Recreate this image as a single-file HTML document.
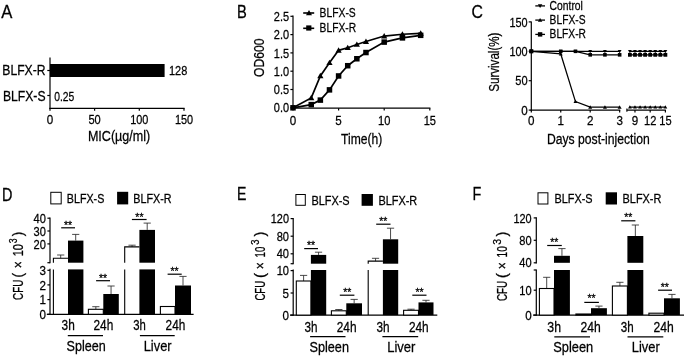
<!DOCTYPE html>
<html><head><meta charset="utf-8"><title>Figure</title>
<style>
html,body{margin:0;padding:0;background:#fff;}
svg{display:block;font-family:"Liberation Sans",sans-serif;}
svg text{fill:#000;stroke:#000;stroke-width:0.27px;}
svg line,svg polyline{stroke:#000;}
</style></head><body>
<svg width="685" height="358" viewBox="0 0 685 358" shape-rendering="geometricPrecision">
<rect x="0" y="0" width="685" height="358" fill="#ffffff" stroke="none"/>
<text transform="translate(1.20,18.10) scale(0.9094,1)" font-size="18.3">A</text>
<text transform="translate(236.90,17.70) scale(0.8029,1)" font-size="18.3">B</text>
<text transform="translate(471.50,18.30) scale(0.8628,1)" font-size="18.3">C</text>
<text transform="translate(1.90,200.50) scale(0.7871,1)" font-size="18.3">D</text>
<text transform="translate(236.90,200.30) scale(0.7701,1)" font-size="18.3">E</text>
<text transform="translate(472.50,200.40) scale(0.7870,1)" font-size="18.3">F</text>
<line x1="50.00" y1="57.50" x2="50.00" y2="108.90" stroke-width="1.2"/>
<line x1="47.30" y1="70.50" x2="50.00" y2="70.50" stroke-width="1.2"/>
<line x1="47.30" y1="95.50" x2="50.00" y2="95.50" stroke-width="1.2"/>
<rect x="50.00" y="64.00" width="114.60" height="13.00" fill="#000" stroke="none"/>
<line x1="49.40" y1="108.30" x2="184.60" y2="108.30" stroke-width="1.2"/>
<line x1="50.00" y1="108.30" x2="50.00" y2="110.80" stroke-width="1.2"/>
<line x1="94.60" y1="108.30" x2="94.60" y2="110.80" stroke-width="1.2"/>
<line x1="139.30" y1="108.30" x2="139.30" y2="110.80" stroke-width="1.2"/>
<line x1="184.00" y1="108.30" x2="184.00" y2="110.80" stroke-width="1.2"/>
<text transform="translate(2.30,75.40) scale(0.8227,1)" font-size="14.8">BLFX-R</text>
<text transform="translate(2.90,100.50) scale(0.8241,1)" font-size="14.8">BLFX-S</text>
<text transform="translate(169.00,75.20) scale(0.8008,1)" font-size="13.7">128</text>
<text transform="translate(54.20,100.60) scale(0.7539,1)" font-size="13.7">0.25</text>
<text transform="translate(46.77,124.00) scale(0.8488,1)" font-size="13.7">0</text>
<text transform="translate(88.43,124.00) scale(0.8094,1)" font-size="13.7">50</text>
<text transform="translate(130.20,124.00) scale(0.7963,1)" font-size="13.7">100</text>
<text transform="translate(174.90,124.00) scale(0.7963,1)" font-size="13.7">150</text>
<text transform="translate(87.90,141.30) scale(0.8270,1)" font-size="15.2">MIC(µg/ml)</text>
<line x1="293.00" y1="15.60" x2="293.00" y2="108.40" stroke-width="1.2"/>
<line x1="290.40" y1="107.80" x2="293.00" y2="107.80" stroke-width="1.2"/>
<text transform="translate(273.84,112.40) scale(0.8015,1)" font-size="13.7">0.0</text>
<line x1="290.40" y1="89.50" x2="293.00" y2="89.50" stroke-width="1.2"/>
<text transform="translate(273.84,94.10) scale(0.8015,1)" font-size="13.7">0.5</text>
<line x1="290.40" y1="71.20" x2="293.00" y2="71.20" stroke-width="1.2"/>
<text transform="translate(273.84,75.80) scale(0.8015,1)" font-size="13.7">1.0</text>
<line x1="290.40" y1="52.90" x2="293.00" y2="52.90" stroke-width="1.2"/>
<text transform="translate(273.84,57.50) scale(0.8015,1)" font-size="13.7">1.5</text>
<line x1="290.40" y1="34.60" x2="293.00" y2="34.60" stroke-width="1.2"/>
<text transform="translate(273.84,39.20) scale(0.8015,1)" font-size="13.7">2.0</text>
<line x1="290.40" y1="16.30" x2="293.00" y2="16.30" stroke-width="1.2"/>
<text transform="translate(273.84,20.90) scale(0.8015,1)" font-size="13.7">2.5</text>
<line x1="292.40" y1="108.20" x2="430.40" y2="108.20" stroke-width="1.2"/>
<line x1="293.00" y1="108.20" x2="293.00" y2="110.60" stroke-width="1.2"/>
<text transform="translate(289.77,124.50) scale(0.8488,1)" font-size="13.7">0</text>
<line x1="338.60" y1="108.20" x2="338.60" y2="110.60" stroke-width="1.2"/>
<text transform="translate(335.37,124.50) scale(0.8488,1)" font-size="13.7">5</text>
<line x1="384.20" y1="108.20" x2="384.20" y2="110.60" stroke-width="1.2"/>
<text transform="translate(378.03,124.50) scale(0.8094,1)" font-size="13.7">10</text>
<line x1="429.80" y1="108.20" x2="429.80" y2="110.60" stroke-width="1.2"/>
<text transform="translate(423.63,124.50) scale(0.8094,1)" font-size="13.7">15</text>
<text transform="translate(341.10,143.50) scale(0.7956,1)" font-size="15.2">Time(h)</text>
<text transform="translate(264.40,77.00) rotate(-90) scale(0.7974,1)" font-size="15.2">OD600</text>
<polyline points="293.00,107.80 311.24,97.92 320.36,75.96 329.48,62.78 338.60,50.34 347.72,47.78 356.84,44.48 365.96,41.55 384.20,36.06 402.44,34.23 420.68,33.32" fill="none" stroke-width="1.7"/>
<polyline points="293.00,107.80 311.24,104.62 320.36,100.11 329.48,89.87 338.60,75.96 347.72,65.71 356.84,58.76 365.96,52.53 384.20,42.10 402.44,37.89 420.68,35.33" fill="none" stroke-width="1.7"/>
<polygon points="311.24,94.82 308.14,100.24 314.34,100.24" fill="#000" stroke="none"/>
<polygon points="320.36,72.86 317.26,78.28 323.46,78.28" fill="#000" stroke="none"/>
<polygon points="329.48,59.68 326.38,65.11 332.58,65.11" fill="#000" stroke="none"/>
<polygon points="338.60,47.24 335.50,52.66 341.70,52.66" fill="#000" stroke="none"/>
<polygon points="347.72,44.68 344.62,50.10 350.82,50.10" fill="#000" stroke="none"/>
<polygon points="356.84,41.38 353.74,46.81 359.94,46.81" fill="#000" stroke="none"/>
<polygon points="365.96,38.45 362.86,43.88 369.06,43.88" fill="#000" stroke="none"/>
<polygon points="384.20,32.96 381.10,38.39 387.30,38.39" fill="#000" stroke="none"/>
<polygon points="402.44,31.13 399.34,36.56 405.54,36.56" fill="#000" stroke="none"/>
<polygon points="420.68,30.22 417.58,35.64 423.78,35.64" fill="#000" stroke="none"/>
<rect x="290.25" y="105.05" width="5.50" height="5.50" fill="#000" stroke="none"/>
<rect x="308.49" y="101.87" width="5.50" height="5.50" fill="#000" stroke="none"/>
<rect x="317.61" y="97.36" width="5.50" height="5.50" fill="#000" stroke="none"/>
<rect x="326.73" y="87.12" width="5.50" height="5.50" fill="#000" stroke="none"/>
<rect x="335.85" y="73.21" width="5.50" height="5.50" fill="#000" stroke="none"/>
<rect x="344.97" y="62.96" width="5.50" height="5.50" fill="#000" stroke="none"/>
<rect x="354.09" y="56.01" width="5.50" height="5.50" fill="#000" stroke="none"/>
<rect x="363.21" y="49.78" width="5.50" height="5.50" fill="#000" stroke="none"/>
<rect x="381.45" y="39.35" width="5.50" height="5.50" fill="#000" stroke="none"/>
<rect x="399.69" y="35.14" width="5.50" height="5.50" fill="#000" stroke="none"/>
<rect x="417.93" y="32.58" width="5.50" height="5.50" fill="#000" stroke="none"/>
<line x1="303.20" y1="13.00" x2="314.20" y2="13.00" stroke-width="1.6"/>
<polygon points="309.00,9.90 306.00,15.15 312.00,15.15" fill="#000" stroke="none"/>
<line x1="303.20" y1="28.30" x2="314.20" y2="28.30" stroke-width="1.6"/>
<rect x="306.20" y="25.40" width="5.20" height="5.20" fill="#000" stroke="none"/>
<text transform="translate(319.60,16.80) scale(0.7547,1)" font-size="13.7">BLFX-S</text>
<text transform="translate(319.60,32.30) scale(0.7492,1)" font-size="13.7">BLFX-R</text>
<line x1="531.30" y1="21.60" x2="531.30" y2="110.70" stroke-width="1.2"/>
<line x1="528.70" y1="110.10" x2="531.30" y2="110.10" stroke-width="1.2"/>
<text transform="translate(521.13,114.70) scale(0.8488,1)" font-size="13.7">0</text>
<line x1="528.70" y1="80.70" x2="531.30" y2="80.70" stroke-width="1.2"/>
<text transform="translate(515.27,85.30) scale(0.8094,1)" font-size="13.7">50</text>
<line x1="528.70" y1="51.30" x2="531.30" y2="51.30" stroke-width="1.2"/>
<text transform="translate(509.40,55.90) scale(0.7963,1)" font-size="13.7">100</text>
<line x1="528.70" y1="21.90" x2="531.30" y2="21.90" stroke-width="1.2"/>
<text transform="translate(509.40,26.50) scale(0.7963,1)" font-size="13.7">150</text>
<line x1="530.70" y1="110.10" x2="620.20" y2="110.10" stroke-width="1.2"/>
<line x1="531.30" y1="110.10" x2="531.30" y2="112.60" stroke-width="1.2"/>
<text transform="translate(528.07,125.40) scale(0.8488,1)" font-size="13.7">0</text>
<line x1="560.75" y1="110.10" x2="560.75" y2="112.60" stroke-width="1.2"/>
<text transform="translate(557.52,125.40) scale(0.8488,1)" font-size="13.7">1</text>
<line x1="590.20" y1="110.10" x2="590.20" y2="112.60" stroke-width="1.2"/>
<text transform="translate(586.97,125.40) scale(0.8488,1)" font-size="13.7">2</text>
<line x1="619.65" y1="110.10" x2="619.65" y2="112.60" stroke-width="1.2"/>
<text transform="translate(616.42,125.40) scale(0.8488,1)" font-size="13.7">3</text>
<line x1="626.80" y1="110.10" x2="665.80" y2="110.10" stroke-width="1.2"/>
<line x1="626.90" y1="108.60" x2="626.90" y2="111.80" stroke-width="1.1"/>
<line x1="634.97" y1="110.10" x2="634.97" y2="112.60" stroke-width="1.2"/>
<text transform="translate(631.74,125.40) scale(0.8488,1)" font-size="13.7">9</text>
<line x1="650.18" y1="110.10" x2="650.18" y2="112.60" stroke-width="1.2"/>
<text transform="translate(644.01,125.40) scale(0.8094,1)" font-size="13.7">12</text>
<line x1="665.39" y1="110.10" x2="665.39" y2="112.60" stroke-width="1.2"/>
<text transform="translate(659.22,125.40) scale(0.8094,1)" font-size="13.7">15</text>
<text transform="translate(546.90,144.20) scale(0.8013,1)" font-size="15.2">Days post-injection</text>
<text transform="translate(499.30,91.80) rotate(-90) scale(0.7632,1)" font-size="15.2">Survival(%)</text>
<polyline points="531.30,51.30 560.75,51.30 575.47,51.30 590.20,51.30 604.92,51.30 619.65,51.30" fill="none" stroke-width="1.25"/>
<polyline points="531.30,51.30 560.75,51.30 575.47,51.30 590.20,54.83 604.92,54.83 619.65,54.83" fill="none" stroke-width="1.25"/>
<polyline points="531.30,51.30 560.75,53.95 575.47,101.57 590.20,107.16 604.92,107.16 619.65,107.16" fill="none" stroke-width="1.25"/>
<polygon points="531.30,53.20 529.40,49.88 533.20,49.88" fill="#000" stroke="none"/>
<polygon points="560.75,53.20 558.85,49.88 562.65,49.88" fill="#000" stroke="none"/>
<polygon points="575.47,53.20 573.57,49.88 577.37,49.88" fill="#000" stroke="none"/>
<polygon points="590.20,53.20 588.30,49.88 592.10,49.88" fill="#000" stroke="none"/>
<polygon points="604.92,53.20 603.02,49.88 606.82,49.88" fill="#000" stroke="none"/>
<polygon points="619.65,53.20 617.75,49.88 621.55,49.88" fill="#000" stroke="none"/>
<rect x="529.50" y="49.50" width="3.60" height="3.60" fill="#000" stroke="none"/>
<rect x="558.95" y="49.50" width="3.60" height="3.60" fill="#000" stroke="none"/>
<rect x="573.67" y="49.50" width="3.60" height="3.60" fill="#000" stroke="none"/>
<rect x="588.40" y="53.03" width="3.60" height="3.60" fill="#000" stroke="none"/>
<rect x="603.12" y="53.03" width="3.60" height="3.60" fill="#000" stroke="none"/>
<rect x="617.85" y="53.03" width="3.60" height="3.60" fill="#000" stroke="none"/>
<polygon points="531.30,49.30 529.30,52.80 533.30,52.80" fill="#000" stroke="none"/>
<polygon points="560.75,51.95 558.75,55.45 562.75,55.45" fill="#000" stroke="none"/>
<polygon points="575.47,99.57 573.47,103.07 577.47,103.07" fill="#000" stroke="none"/>
<polygon points="590.20,105.16 588.20,108.66 592.20,108.66" fill="#000" stroke="none"/>
<polygon points="604.92,105.16 602.92,108.66 606.92,108.66" fill="#000" stroke="none"/>
<polygon points="619.65,105.16 617.65,108.66 621.65,108.66" fill="#000" stroke="none"/>
<rect x="529.30" y="49.30" width="4.00" height="4.00" fill="#000" stroke="none"/>
<line x1="629.90" y1="51.30" x2="665.39" y2="51.30" stroke-width="1.25"/>
<polygon points="629.90,53.20 628.00,49.88 631.80,49.88" fill="#000" stroke="none"/>
<polygon points="634.97,53.20 633.07,49.88 636.87,49.88" fill="#000" stroke="none"/>
<polygon points="640.04,53.20 638.14,49.88 641.94,49.88" fill="#000" stroke="none"/>
<polygon points="645.11,53.20 643.21,49.88 647.01,49.88" fill="#000" stroke="none"/>
<polygon points="650.18,53.20 648.28,49.88 652.08,49.88" fill="#000" stroke="none"/>
<polygon points="655.25,53.20 653.35,49.88 657.15,49.88" fill="#000" stroke="none"/>
<polygon points="660.32,53.20 658.42,49.88 662.22,49.88" fill="#000" stroke="none"/>
<polygon points="665.39,53.20 663.49,49.88 667.29,49.88" fill="#000" stroke="none"/>
<line x1="629.90" y1="54.83" x2="665.39" y2="54.83" stroke-width="1.25"/>
<rect x="628.00" y="52.93" width="3.80" height="3.80" fill="#000" stroke="none"/>
<rect x="633.07" y="52.93" width="3.80" height="3.80" fill="#000" stroke="none"/>
<rect x="638.14" y="52.93" width="3.80" height="3.80" fill="#000" stroke="none"/>
<rect x="643.21" y="52.93" width="3.80" height="3.80" fill="#000" stroke="none"/>
<rect x="648.28" y="52.93" width="3.80" height="3.80" fill="#000" stroke="none"/>
<rect x="653.35" y="52.93" width="3.80" height="3.80" fill="#000" stroke="none"/>
<rect x="658.42" y="52.93" width="3.80" height="3.80" fill="#000" stroke="none"/>
<rect x="663.49" y="52.93" width="3.80" height="3.80" fill="#000" stroke="none"/>
<line x1="629.90" y1="107.16" x2="665.39" y2="107.16" stroke-width="1.25"/>
<polygon points="629.90,105.26 628.00,108.58 631.80,108.58" fill="#000" stroke="none"/>
<polygon points="634.97,105.26 633.07,108.58 636.87,108.58" fill="#000" stroke="none"/>
<polygon points="640.04,105.26 638.14,108.58 641.94,108.58" fill="#000" stroke="none"/>
<polygon points="645.11,105.26 643.21,108.58 647.01,108.58" fill="#000" stroke="none"/>
<polygon points="650.18,105.26 648.28,108.58 652.08,108.58" fill="#000" stroke="none"/>
<polygon points="655.25,105.26 653.35,108.58 657.15,108.58" fill="#000" stroke="none"/>
<polygon points="660.32,105.26 658.42,108.58 662.22,108.58" fill="#000" stroke="none"/>
<polygon points="665.39,105.26 663.49,108.58 667.29,108.58" fill="#000" stroke="none"/>
<line x1="535.30" y1="5.90" x2="545.00" y2="5.90" stroke-width="1.3"/>
<polygon points="540.10,8.10 537.90,4.25 542.30,4.25" fill="#000" stroke="none"/>
<line x1="535.30" y1="20.10" x2="545.00" y2="20.10" stroke-width="1.3"/>
<polygon points="540.10,17.90 537.90,21.75 542.30,21.75" fill="#000" stroke="none"/>
<line x1="535.30" y1="34.40" x2="545.00" y2="34.40" stroke-width="1.3"/>
<rect x="537.90" y="32.20" width="4.40" height="4.40" fill="#000" stroke="none"/>
<text transform="translate(549.60,9.70) scale(0.7539,1)" font-size="13.7">Control</text>
<text transform="translate(549.60,24.00) scale(0.7485,1)" font-size="13.7">BLFX-S</text>
<text transform="translate(549.60,38.30) scale(0.7472,1)" font-size="13.7">BLFX-R</text>
<line x1="50.00" y1="217.60" x2="50.00" y2="263.30" stroke-width="1.2"/>
<line x1="50.00" y1="268.80" x2="50.00" y2="314.90" stroke-width="1.2"/>
<line x1="47.40" y1="218.20" x2="50.00" y2="218.20" stroke-width="1.2"/>
<text transform="translate(33.57,222.80) scale(0.8094,1)" font-size="13.7">40</text>
<line x1="47.40" y1="231.00" x2="50.00" y2="231.00" stroke-width="1.2"/>
<text transform="translate(33.57,235.60) scale(0.8094,1)" font-size="13.7">30</text>
<line x1="47.40" y1="243.90" x2="50.00" y2="243.90" stroke-width="1.2"/>
<text transform="translate(33.57,248.50) scale(0.8094,1)" font-size="13.7">20</text>
<line x1="47.40" y1="262.70" x2="50.00" y2="262.70" stroke-width="1.2"/>
<line x1="47.40" y1="270.30" x2="50.00" y2="270.30" stroke-width="1.2"/>
<text transform="translate(39.43,274.90) scale(0.8488,1)" font-size="13.7">3</text>
<line x1="47.40" y1="284.90" x2="50.00" y2="284.90" stroke-width="1.2"/>
<text transform="translate(39.43,289.50) scale(0.8488,1)" font-size="13.7">2</text>
<line x1="47.40" y1="299.60" x2="50.00" y2="299.60" stroke-width="1.2"/>
<text transform="translate(39.43,304.20) scale(0.8488,1)" font-size="13.7">1</text>
<line x1="47.40" y1="314.30" x2="50.00" y2="314.30" stroke-width="1.2"/>
<text transform="translate(39.43,318.90) scale(0.8488,1)" font-size="13.7">0</text>
<line x1="46.80" y1="314.30" x2="193.60" y2="314.30" stroke-width="1.2"/>
<line x1="60.70" y1="255.00" x2="60.70" y2="258.20" stroke-width="0.85" style="stroke:#2a2a2a"/>
<line x1="57.10" y1="255.00" x2="64.30" y2="255.00" stroke-width="0.85" style="stroke:#2a2a2a"/>
<polyline points="53.40,262.70 53.40,258.20 68.00,258.20" fill="none" stroke-width="1.1"/>
<line x1="53.40" y1="269.40" x2="53.40" y2="314.30" stroke-width="1.1"/>
<line x1="75.70" y1="234.40" x2="75.70" y2="240.60" stroke-width="0.85" style="stroke:#2a2a2a"/>
<line x1="72.10" y1="234.40" x2="79.30" y2="234.40" stroke-width="0.85" style="stroke:#2a2a2a"/>
<rect x="68.00" y="240.60" width="15.40" height="22.10" fill="#000" stroke="none"/>
<rect x="68.00" y="269.40" width="15.40" height="44.90" fill="#000" stroke="none"/>
<line x1="95.85" y1="306.70" x2="95.85" y2="309.30" stroke-width="0.85" style="stroke:#2a2a2a"/>
<line x1="92.25" y1="306.70" x2="99.45" y2="306.70" stroke-width="0.85" style="stroke:#2a2a2a"/>
<rect x="88.40" y="309.30" width="14.90" height="5.00" fill="#fff" stroke="#000" stroke-width="1.1"/>
<line x1="111.05" y1="286.00" x2="111.05" y2="294.00" stroke-width="0.85" style="stroke:#2a2a2a"/>
<line x1="107.45" y1="286.00" x2="114.65" y2="286.00" stroke-width="0.85" style="stroke:#2a2a2a"/>
<rect x="103.30" y="294.00" width="15.50" height="20.30" fill="#000" stroke="none"/>
<line x1="132.05" y1="245.20" x2="132.05" y2="246.90" stroke-width="0.85" style="stroke:#2a2a2a"/>
<line x1="128.45" y1="245.20" x2="135.65" y2="245.20" stroke-width="0.85" style="stroke:#2a2a2a"/>
<polyline points="124.70,262.70 124.70,246.90 139.40,246.90" fill="none" stroke-width="1.1"/>
<line x1="124.70" y1="269.40" x2="124.70" y2="314.30" stroke-width="1.1"/>
<line x1="147.20" y1="223.10" x2="147.20" y2="229.90" stroke-width="0.85" style="stroke:#2a2a2a"/>
<line x1="143.60" y1="223.10" x2="150.80" y2="223.10" stroke-width="0.85" style="stroke:#2a2a2a"/>
<rect x="139.40" y="229.90" width="15.60" height="32.80" fill="#000" stroke="none"/>
<rect x="139.40" y="269.40" width="15.60" height="44.90" fill="#000" stroke="none"/>
<rect x="160.40" y="306.50" width="14.60" height="7.80" fill="#fff" stroke="#000" stroke-width="1.1"/>
<line x1="183.00" y1="276.40" x2="183.00" y2="285.50" stroke-width="0.85" style="stroke:#2a2a2a"/>
<line x1="179.40" y1="276.40" x2="186.60" y2="276.40" stroke-width="0.85" style="stroke:#2a2a2a"/>
<rect x="175.00" y="285.50" width="16.00" height="28.80" fill="#000" stroke="none"/>
<line x1="61.20" y1="227.80" x2="75.00" y2="227.80" stroke-width="1.2"/>
<text transform="translate(64.04,229.20) scale(0.9934,1)" font-size="10.5" stroke-width="0.1">**</text>
<line x1="96.10" y1="280.70" x2="110.00" y2="280.70" stroke-width="1.2"/>
<text transform="translate(98.94,281.90) scale(0.9934,1)" font-size="10.5" stroke-width="0.1">**</text>
<line x1="131.90" y1="219.50" x2="146.60" y2="219.50" stroke-width="1.2"/>
<text transform="translate(135.34,220.90) scale(0.9934,1)" font-size="10.5" stroke-width="0.1">**</text>
<line x1="167.60" y1="274.20" x2="181.70" y2="274.20" stroke-width="1.2"/>
<text transform="translate(170.44,274.70) scale(0.9934,1)" font-size="10.5" stroke-width="0.1">**</text>
<rect x="50.80" y="192.30" width="10.40" height="11.60" fill="#fff" stroke="#000" stroke-width="1.0"/>
<text transform="translate(66.80,202.70) scale(0.8115,1)" font-size="13.2">BLFX-S</text>
<rect x="117.10" y="191.80" width="11.10" height="12.60" fill="#000" stroke="none"/>
<text transform="translate(133.30,202.70) scale(0.8159,1)" font-size="13.2">BLFX-R</text>
<text transform="translate(23.00,299.90) rotate(-90) scale(0.6467,1)" font-size="15.2">CFU</text>
<text transform="translate(23.00,277.50) rotate(-90) scale(0.8890,1)" font-size="15.2">(</text>
<text transform="translate(23.00,268.20) rotate(-90) scale(0.7886,1)" font-size="15.2">×</text>
<text transform="translate(23.00,256.30) rotate(-90) scale(0.7277,1)" font-size="15.2">10</text>
<text transform="translate(17.00,243.30) rotate(-90) scale(0.8813,1)" font-size="10">3</text>
<text transform="translate(23.00,236.20) rotate(-90) scale(0.8890,1)" font-size="15.2">)</text>
<text transform="translate(61.60,330.40) scale(0.7810,1)" font-size="15.2">3h</text>
<text transform="translate(93.50,330.40) scale(0.7810,1)" font-size="15.2">24h</text>
<text transform="translate(133.30,330.40) scale(0.7455,1)" font-size="15.2">3h</text>
<text transform="translate(165.60,330.40) scale(0.7770,1)" font-size="15.2">24h</text>
<line x1="67.80" y1="335.60" x2="103.00" y2="335.60" stroke-width="1.2"/>
<line x1="139.90" y1="335.60" x2="174.70" y2="335.60" stroke-width="1.2"/>
<text transform="translate(66.60,350.70) scale(0.8282,1)" font-size="15.2">Spleen</text>
<text transform="translate(143.70,350.70) scale(0.8466,1)" font-size="15.2">Liver</text>
<line x1="293.20" y1="218.00" x2="293.20" y2="264.30" stroke-width="1.2"/>
<line x1="293.20" y1="269.40" x2="293.20" y2="315.70" stroke-width="1.2"/>
<line x1="290.60" y1="218.60" x2="293.20" y2="218.60" stroke-width="1.2"/>
<text transform="translate(270.80,223.20) scale(0.7963,1)" font-size="13.7">120</text>
<line x1="290.60" y1="236.20" x2="293.20" y2="236.20" stroke-width="1.2"/>
<text transform="translate(276.67,240.80) scale(0.8094,1)" font-size="13.7">80</text>
<line x1="290.60" y1="253.80" x2="293.20" y2="253.80" stroke-width="1.2"/>
<text transform="translate(276.67,258.40) scale(0.8094,1)" font-size="13.7">40</text>
<line x1="290.60" y1="263.70" x2="293.20" y2="263.70" stroke-width="1.2"/>
<line x1="290.60" y1="270.60" x2="293.20" y2="270.60" stroke-width="1.2"/>
<text transform="translate(276.67,275.20) scale(0.8094,1)" font-size="13.7">10</text>
<line x1="290.60" y1="293.00" x2="293.20" y2="293.00" stroke-width="1.2"/>
<text transform="translate(282.53,297.60) scale(0.8488,1)" font-size="13.7">5</text>
<line x1="290.60" y1="315.10" x2="293.20" y2="315.10" stroke-width="1.2"/>
<text transform="translate(282.53,319.70) scale(0.8488,1)" font-size="13.7">0</text>
<line x1="290.00" y1="315.10" x2="437.30" y2="315.10" stroke-width="1.2"/>
<line x1="303.60" y1="275.40" x2="303.60" y2="281.00" stroke-width="0.85" style="stroke:#2a2a2a"/>
<line x1="300.00" y1="275.40" x2="307.20" y2="275.40" stroke-width="0.85" style="stroke:#2a2a2a"/>
<rect x="296.30" y="281.00" width="14.60" height="34.10" fill="#fff" stroke="#000" stroke-width="1.1"/>
<line x1="318.55" y1="252.20" x2="318.55" y2="254.90" stroke-width="0.85" style="stroke:#2a2a2a"/>
<line x1="314.95" y1="252.20" x2="322.15" y2="252.20" stroke-width="0.85" style="stroke:#2a2a2a"/>
<rect x="310.90" y="254.90" width="15.30" height="8.80" fill="#000" stroke="none"/>
<rect x="310.90" y="270.00" width="15.30" height="45.10" fill="#000" stroke="none"/>
<line x1="338.85" y1="309.50" x2="338.85" y2="310.80" stroke-width="0.85" style="stroke:#2a2a2a"/>
<line x1="335.25" y1="309.50" x2="342.45" y2="309.50" stroke-width="0.85" style="stroke:#2a2a2a"/>
<rect x="331.40" y="310.80" width="14.90" height="4.30" fill="#fff" stroke="#000" stroke-width="1.1"/>
<line x1="354.15" y1="299.40" x2="354.15" y2="303.30" stroke-width="0.85" style="stroke:#2a2a2a"/>
<line x1="350.55" y1="299.40" x2="357.75" y2="299.40" stroke-width="0.85" style="stroke:#2a2a2a"/>
<rect x="346.30" y="303.30" width="15.70" height="11.80" fill="#000" stroke="none"/>
<line x1="375.55" y1="258.30" x2="375.55" y2="261.10" stroke-width="0.85" style="stroke:#2a2a2a"/>
<line x1="371.95" y1="258.30" x2="379.15" y2="258.30" stroke-width="0.85" style="stroke:#2a2a2a"/>
<polyline points="368.20,263.70 368.20,261.10 382.90,261.10" fill="none" stroke-width="1.1"/>
<line x1="368.20" y1="270.00" x2="368.20" y2="315.10" stroke-width="1.1"/>
<line x1="390.55" y1="228.20" x2="390.55" y2="239.30" stroke-width="0.85" style="stroke:#2a2a2a"/>
<line x1="386.95" y1="228.20" x2="394.15" y2="228.20" stroke-width="0.85" style="stroke:#2a2a2a"/>
<rect x="382.90" y="239.30" width="15.30" height="24.40" fill="#000" stroke="none"/>
<rect x="382.90" y="270.00" width="15.30" height="45.10" fill="#000" stroke="none"/>
<line x1="411.05" y1="309.20" x2="411.05" y2="310.30" stroke-width="0.85" style="stroke:#2a2a2a"/>
<line x1="407.45" y1="309.20" x2="414.65" y2="309.20" stroke-width="0.85" style="stroke:#2a2a2a"/>
<rect x="403.60" y="310.30" width="14.90" height="4.80" fill="#fff" stroke="#000" stroke-width="1.1"/>
<line x1="426.00" y1="300.30" x2="426.00" y2="302.40" stroke-width="0.85" style="stroke:#2a2a2a"/>
<line x1="422.40" y1="300.30" x2="429.60" y2="300.30" stroke-width="0.85" style="stroke:#2a2a2a"/>
<rect x="418.50" y="302.40" width="15.00" height="12.70" fill="#000" stroke="none"/>
<line x1="304.20" y1="248.60" x2="318.00" y2="248.60" stroke-width="1.2"/>
<text transform="translate(306.94,248.60) scale(0.9934,1)" font-size="10.5" stroke-width="0.1">**</text>
<line x1="339.80" y1="295.20" x2="354.40" y2="295.20" stroke-width="1.2"/>
<text transform="translate(343.14,295.80) scale(0.9934,1)" font-size="10.5" stroke-width="0.1">**</text>
<line x1="376.20" y1="224.20" x2="390.50" y2="224.20" stroke-width="1.2"/>
<text transform="translate(379.24,224.50) scale(0.9934,1)" font-size="10.5" stroke-width="0.1">**</text>
<line x1="412.30" y1="295.20" x2="426.50" y2="295.20" stroke-width="1.2"/>
<text transform="translate(415.44,295.80) scale(0.9934,1)" font-size="10.5" stroke-width="0.1">**</text>
<rect x="295.90" y="194.50" width="9.40" height="10.80" fill="#fff" stroke="#000" stroke-width="1.0"/>
<text transform="translate(311.40,204.50) scale(0.8288,1)" font-size="13.2">BLFX-S</text>
<rect x="361.60" y="194.00" width="11.30" height="11.80" fill="#000" stroke="none"/>
<text transform="translate(378.40,204.60) scale(0.8287,1)" font-size="13.2">BLFX-R</text>
<text transform="translate(264.80,300.60) rotate(-90) scale(0.6307,1)" font-size="15.2">CFU</text>
<text transform="translate(264.80,278.00) rotate(-90) scale(0.9878,1)" font-size="15.2">(</text>
<text transform="translate(264.80,269.30) rotate(-90) scale(0.7886,1)" font-size="15.2">×</text>
<text transform="translate(264.80,257.40) rotate(-90) scale(0.6330,1)" font-size="15.2">10</text>
<text transform="translate(258.80,244.70) rotate(-90) scale(0.9353,1)" font-size="10">3</text>
<text transform="translate(264.80,236.60) rotate(-90) scale(0.9681,1)" font-size="15.2">)</text>
<text transform="translate(304.50,331.90) scale(0.7691,1)" font-size="15.2">3h</text>
<text transform="translate(336.70,331.90) scale(0.7849,1)" font-size="15.2">24h</text>
<text transform="translate(376.40,331.90) scale(0.7750,1)" font-size="15.2">3h</text>
<text transform="translate(408.90,331.90) scale(0.7810,1)" font-size="15.2">24h</text>
<line x1="310.10" y1="336.70" x2="345.50" y2="336.70" stroke-width="1.2"/>
<line x1="382.40" y1="336.70" x2="418.20" y2="336.70" stroke-width="1.2"/>
<text transform="translate(309.50,352.30) scale(0.8345,1)" font-size="15.2">Spleen</text>
<text transform="translate(387.20,352.30) scale(0.8557,1)" font-size="15.2">Liver</text>
<line x1="536.30" y1="217.30" x2="536.30" y2="263.40" stroke-width="1.2"/>
<line x1="536.30" y1="269.40" x2="536.30" y2="315.70" stroke-width="1.2"/>
<line x1="533.70" y1="217.90" x2="536.30" y2="217.90" stroke-width="1.2"/>
<text transform="translate(513.40,222.50) scale(0.7963,1)" font-size="13.7">120</text>
<line x1="533.70" y1="240.30" x2="536.30" y2="240.30" stroke-width="1.2"/>
<text transform="translate(519.27,244.90) scale(0.8094,1)" font-size="13.7">80</text>
<line x1="533.70" y1="262.80" x2="536.30" y2="262.80" stroke-width="1.2"/>
<text transform="translate(519.27,267.40) scale(0.8094,1)" font-size="13.7">40</text>
<line x1="533.70" y1="270.00" x2="536.30" y2="270.00" stroke-width="1.2"/>
<line x1="533.70" y1="290.20" x2="536.30" y2="290.20" stroke-width="1.2"/>
<text transform="translate(519.27,294.80) scale(0.8094,1)" font-size="13.7">10</text>
<line x1="533.70" y1="315.10" x2="536.30" y2="315.10" stroke-width="1.2"/>
<text transform="translate(525.13,319.70) scale(0.8488,1)" font-size="13.7">0</text>
<line x1="533.10" y1="315.10" x2="684.00" y2="315.10" stroke-width="1.2"/>
<line x1="546.70" y1="277.30" x2="546.70" y2="288.50" stroke-width="0.85" style="stroke:#2a2a2a"/>
<line x1="543.10" y1="277.30" x2="550.30" y2="277.30" stroke-width="0.85" style="stroke:#2a2a2a"/>
<rect x="539.40" y="288.50" width="14.60" height="26.60" fill="#fff" stroke="#000" stroke-width="1.1"/>
<line x1="561.95" y1="248.60" x2="561.95" y2="255.80" stroke-width="0.85" style="stroke:#2a2a2a"/>
<line x1="558.35" y1="248.60" x2="565.55" y2="248.60" stroke-width="0.85" style="stroke:#2a2a2a"/>
<rect x="554.00" y="255.80" width="15.90" height="7.00" fill="#000" stroke="none"/>
<rect x="554.00" y="270.00" width="15.90" height="45.10" fill="#000" stroke="none"/>
<rect x="575.90" y="314.00" width="15.10" height="1.10" fill="#fff" stroke="#000" stroke-width="1.1"/>
<line x1="598.95" y1="306.10" x2="598.95" y2="308.20" stroke-width="0.85" style="stroke:#2a2a2a"/>
<line x1="595.35" y1="306.10" x2="602.55" y2="306.10" stroke-width="0.85" style="stroke:#2a2a2a"/>
<rect x="591.00" y="308.20" width="15.90" height="6.90" fill="#000" stroke="none"/>
<line x1="619.90" y1="282.30" x2="619.90" y2="286.00" stroke-width="0.85" style="stroke:#2a2a2a"/>
<line x1="616.30" y1="282.30" x2="623.50" y2="282.30" stroke-width="0.85" style="stroke:#2a2a2a"/>
<rect x="612.40" y="286.00" width="15.00" height="29.10" fill="#fff" stroke="#000" stroke-width="1.1"/>
<line x1="635.35" y1="225.00" x2="635.35" y2="236.00" stroke-width="0.85" style="stroke:#2a2a2a"/>
<line x1="631.75" y1="225.00" x2="638.95" y2="225.00" stroke-width="0.85" style="stroke:#2a2a2a"/>
<rect x="627.40" y="236.00" width="15.90" height="26.80" fill="#000" stroke="none"/>
<rect x="627.40" y="270.00" width="15.90" height="45.10" fill="#000" stroke="none"/>
<rect x="648.90" y="313.20" width="15.10" height="1.90" fill="#fff" stroke="#000" stroke-width="1.1"/>
<line x1="671.95" y1="294.40" x2="671.95" y2="298.30" stroke-width="0.85" style="stroke:#2a2a2a"/>
<line x1="668.35" y1="294.40" x2="675.55" y2="294.40" stroke-width="0.85" style="stroke:#2a2a2a"/>
<rect x="664.00" y="298.30" width="15.90" height="16.80" fill="#000" stroke="none"/>
<line x1="547.20" y1="245.50" x2="561.80" y2="245.50" stroke-width="1.2"/>
<text transform="translate(550.24,246.40) scale(0.9934,1)" font-size="10.5" stroke-width="0.1">**</text>
<line x1="584.30" y1="302.40" x2="598.90" y2="302.40" stroke-width="1.2"/>
<text transform="translate(587.44,301.90) scale(0.9934,1)" font-size="10.5" stroke-width="0.1">**</text>
<line x1="621.20" y1="220.80" x2="635.40" y2="220.80" stroke-width="1.2"/>
<text transform="translate(624.14,221.20) scale(0.9934,1)" font-size="10.5" stroke-width="0.1">**</text>
<line x1="658.10" y1="290.20" x2="672.00" y2="290.20" stroke-width="1.2"/>
<text transform="translate(660.74,290.70) scale(0.9934,1)" font-size="10.5" stroke-width="0.1">**</text>
<rect x="538.00" y="192.80" width="9.90" height="11.20" fill="#fff" stroke="#000" stroke-width="1.0"/>
<text transform="translate(554.50,202.80) scale(0.8244,1)" font-size="13.2">BLFX-S</text>
<rect x="605.70" y="192.30" width="11.30" height="12.20" fill="#000" stroke="none"/>
<text transform="translate(622.60,203.00) scale(0.8266,1)" font-size="13.2">BLFX-R</text>
<text transform="translate(507.40,301.00) rotate(-90) scale(0.6435,1)" font-size="15.2">CFU</text>
<text transform="translate(507.40,278.20) rotate(-90) scale(1.0273,1)" font-size="15.2">(</text>
<text transform="translate(507.40,269.30) rotate(-90) scale(0.7886,1)" font-size="15.2">×</text>
<text transform="translate(507.40,257.40) rotate(-90) scale(0.6626,1)" font-size="15.2">10</text>
<text transform="translate(501.40,244.70) rotate(-90) scale(1.0432,1)" font-size="10">3</text>
<text transform="translate(507.40,236.60) rotate(-90) scale(0.9681,1)" font-size="15.2">)</text>
<text transform="translate(547.30,331.90) scale(0.8105,1)" font-size="15.2">3h</text>
<text transform="translate(580.50,331.90) scale(0.8007,1)" font-size="15.2">24h</text>
<text transform="translate(620.80,331.90) scale(0.7632,1)" font-size="15.2">3h</text>
<text transform="translate(653.50,331.90) scale(0.8007,1)" font-size="15.2">24h</text>
<line x1="554.30" y1="336.90" x2="590.00" y2="336.90" stroke-width="1.2"/>
<line x1="627.50" y1="336.90" x2="663.30" y2="336.90" stroke-width="1.2"/>
<text transform="translate(553.20,352.30) scale(0.8451,1)" font-size="15.2">Spleen</text>
<text transform="translate(631.80,352.30) scale(0.8497,1)" font-size="15.2">Liver</text>
</svg>
</body></html>
